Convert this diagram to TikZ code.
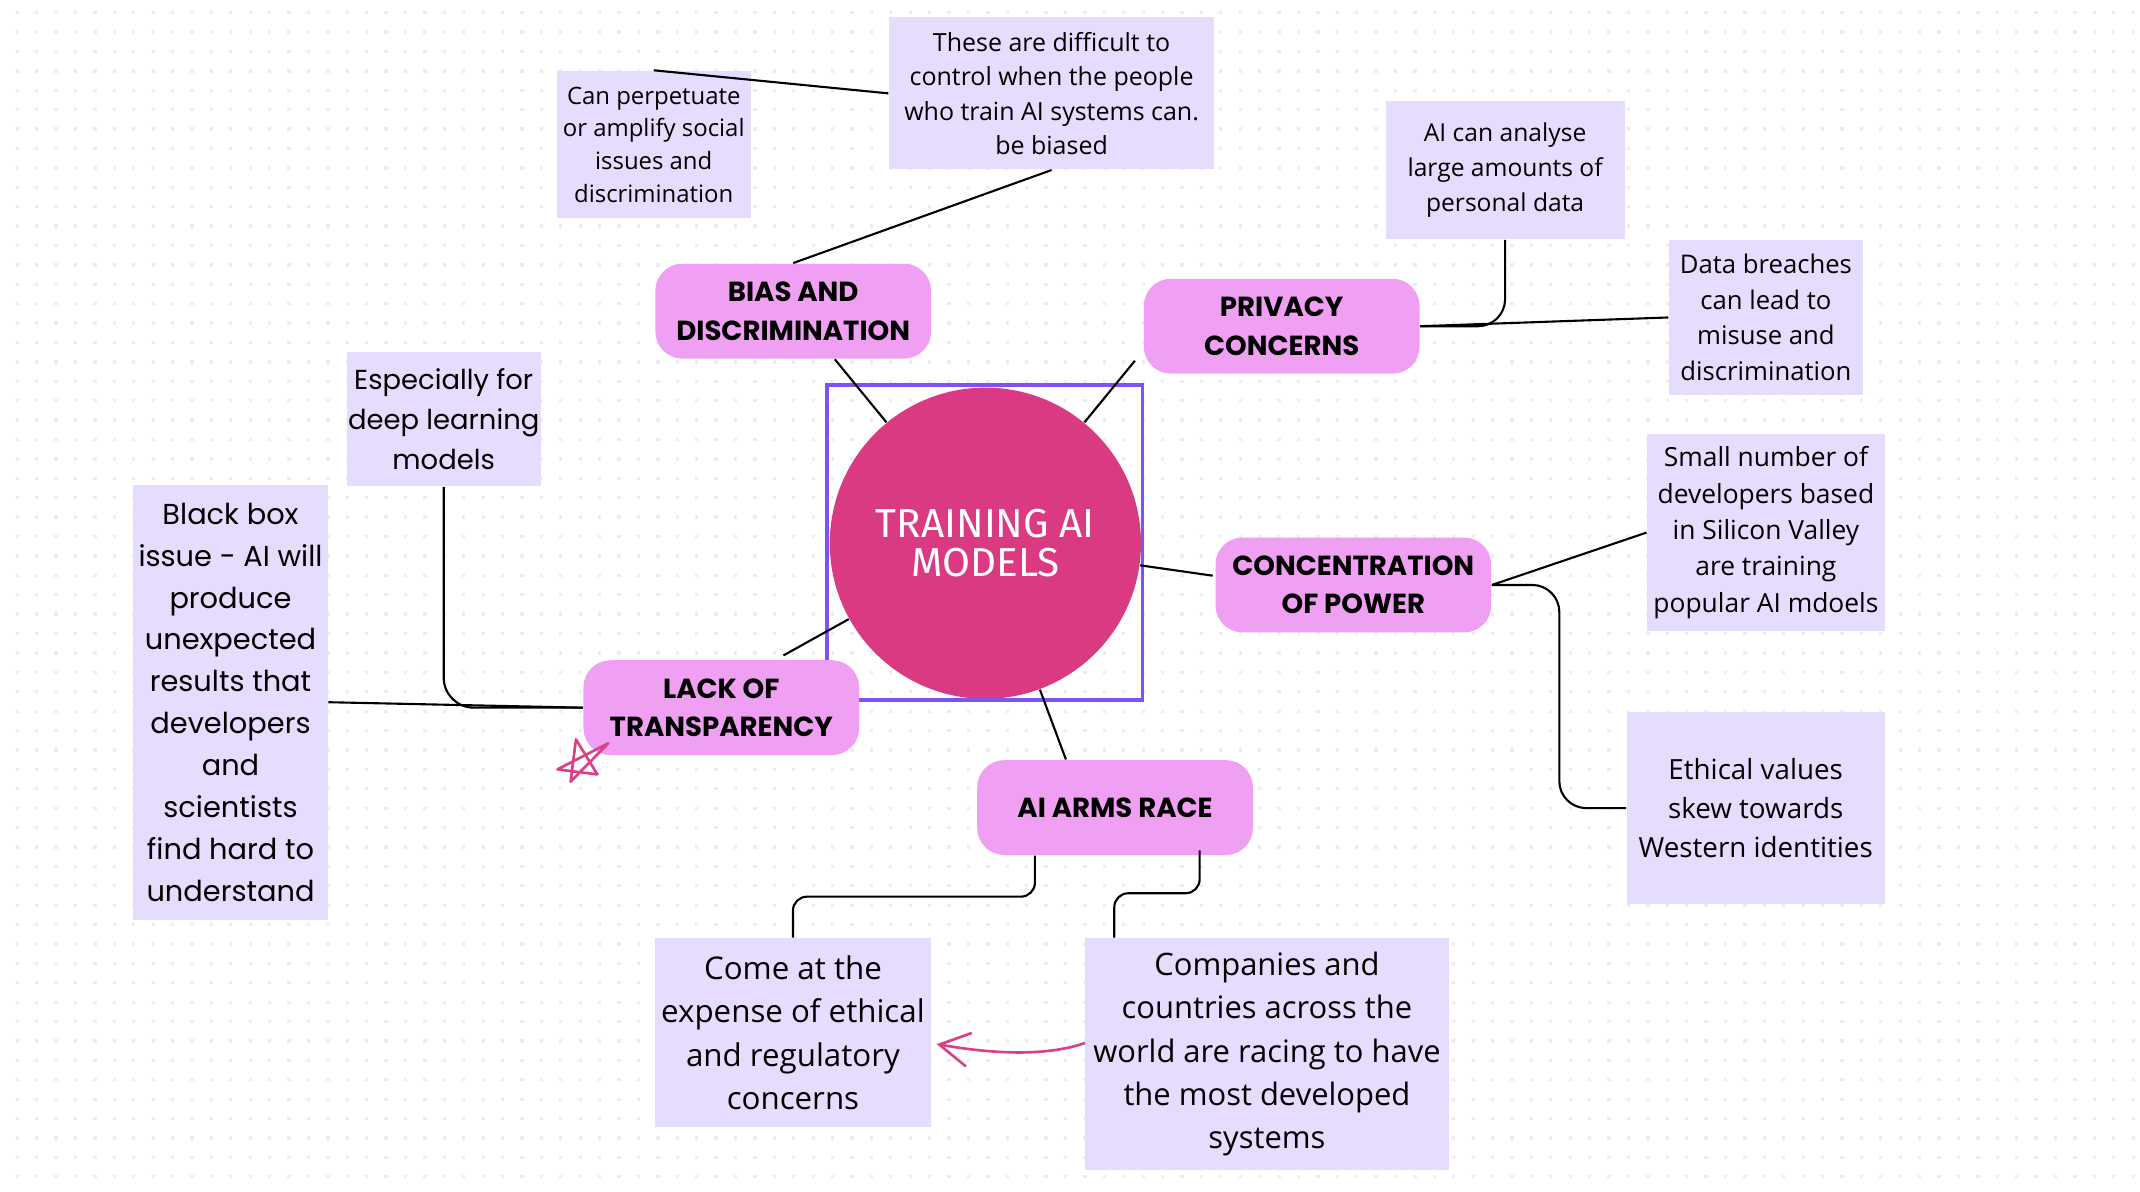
\documentclass[tikz,border=0pt]{standalone}
\usepackage{fontspec}
\setmainfont{Open Sans}
\newfontfamily\headfont{Poppins}
\newfontfamily\corefont{Fira Sans}
\usepackage{tikz}
\usetikzlibrary{arrows.meta,calc,positioning}

\definecolor{pillfill}{HTML}{F0A0F2}
\definecolor{leaffill}{HTML}{E6DCFD}
\definecolor{corefill}{HTML}{D93A81}
\definecolor{framecol}{HTML}{7F52F5}
\definecolor{inkcol}{HTML}{DD3F86}
\definecolor{dotcol}{HTML}{ECECF2}

\newcommand{\px}{0.013648cm}

\begin{document}
\begin{tikzpicture}[x=0.013648cm,y=-0.013648cm,
    link/.style={draw=black,line width=0.6pt},
    ink/.style={draw=inkcol,line width=0.75pt,line cap=round,line join=round},
    pill/.style={fill=pillfill,rounded corners=0.27cm,minimum width=202*\px,minimum height=69.5*\px,
      inner sep=0pt,align=center,font=\headfont\bfseries\fontsize{7.85}{10.9}\selectfont},
    leaf/.style={fill=leaffill,inner sep=0pt,align=center},
    core/.style={circle,fill=corefill,minimum size=228*\px,inner sep=0pt,text=white,align=center,
      font=\corefont\fontsize{11.5}{11.2}\selectfont}]

\useasboundingbox (0,0) rectangle (1568,873);
\fill[white] (0,0) rectangle (1568,873);
% dot grid
\foreach \r in {0,...,60}
  \draw[dotcol,line width=0.03276cm,dash pattern=on 0.03276cm off 0.16125cm]
    (11.48,9.3+14.215*\r) -- (1568,9.3+14.215*\r);

% centre
\node[core] (core) at (722,398) {TRAINING AI\\MODELS};
\node[draw=framecol,line width=1.05pt,minimum size=231*\px,inner sep=0pt] (selframe) at (721.5,397.5) {};

% main topics
\node[pill] (bias) at (581.2,228) {BIAS AND\\DISCRIMINATION};
\node[pill] (privacy) at (939.1,239) {PRIVACY\\CONCERNS};
\node[pill] (conc) at (991.6,428.6) {CONCENTRATION\\OF POWER};
\node[pill] (lack) at (528.5,518.5) {LACK OF\\TRANSPARENCY};
\node[pill] (arms) at (817,591.7) {AI ARMS RACE};

% notes
\node[leaf,minimum width=238.1*\px,minimum height=111.3*\px,font=\fontsize{7.1}{9.82}\selectfont] (these) at (770.5,68.4)
  {These are difficult to\\control when the people\\who train AI systems can.\\be biased};
\node[leaf,minimum width=142*\px,minimum height=108*\px,font=\fontsize{6.8}{9.31}\selectfont] (perp) at (479,106)
  {Can perpetuate\\or amplify social\\issues and\\discrimination};
\node[leaf,minimum width=175*\px,minimum height=101.3*\px,font=\fontsize{7.0}{9.9}\selectfont] (analyse) at (1102.8,124.6)
  {AI can analyse\\large amounts of\\personal data};
\node[leaf,minimum width=142.1*\px,minimum height=113.5*\px,font=\fontsize{7.3}{10.1}\selectfont] (breach) at (1293.9,232.6)
  {Data breaches\\can lead to\\misuse and\\discrimination};
\node[leaf,minimum width=173.9*\px,minimum height=144.1*\px,font=\fontsize{7.5}{10.36}\selectfont] (devs) at (1293.9,390.2)
  {Small number of\\developers based\\in Silicon Valley\\are training\\popular AI mdoels};
\node[leaf,minimum width=188.8*\px,minimum height=140.5*\px,font=\fontsize{7.9}{11.06}\selectfont] (ethic) at (1286.4,592.1)
  {Ethical values\\skew towards\\Western identities};
\node[leaf,minimum width=142.2*\px,minimum height=98.2*\px,font=\headfont\fontsize{7.8}{11.25}\selectfont] (deep) at (325.1,307.1)
  {Especially for\\deep learning\\models};
\node[leaf,minimum width=142.4*\px,minimum height=318.9*\px,font=\headfont\fontsize{8.2}{11.9}\selectfont] (blackbox) at (168.9,514.5)
  {Black box\\issue - AI will\\produce\\unexpected\\results that\\developers\\and\\scientists\\find hard to\\understand};
\node[leaf,minimum width=202.8*\px,minimum height=138.5*\px,font=\fontsize{8.9}{12.3}\selectfont] (expense) at (581,756.7)
  {Come at the\\expense of ethical\\and regulatory\\concerns};
\node[leaf,minimum width=266.7*\px,minimum height=169.8*\px,font=\fontsize{8.8}{12.3}\selectfont] (race) at (928.3,772.4)
  {Companies and\\countries across the\\world are racing to have\\the most developed\\systems};

% spokes
\draw[link] (core) -- ($(bias.south)+(30.5,0)$);
\draw[link] (core) -- ($(privacy.south west)+(-6,-10)$);
\draw[link] (core) -- ($(conc.west)+(-1.5,-6.8)$);
\draw[link] (core) -- ($(lack.north)+(45.5,-3)$);
\draw[link] (core) -- ($(arms.north)+(-36,0)$);

% branches
\draw[link] (perp.north) -- (these.west);
\draw[link] (bias.north) -- (these.south);
\draw[link,rounded corners=0.27cm] (privacy.east) -| (analyse.south);
\draw[link] (privacy.east) -- (breach.west);
\draw[link] (conc.east) -- (devs.west);
\draw[link,rounded corners=0.27cm] (conc.east) -- ++(49.4,0) |- (ethic.west);
\draw[link,rounded corners=0.3cm] (deep.south) |- (lack.west);
\draw[link] (blackbox.east) -- (lack.west);
\draw[link,rounded corners=0.14cm] ($(arms.south)+(-58.7,0)$) -- ++(0,30) -| (expense.north);
\draw[link,rounded corners=0.14cm] ($(arms.south)+(62,-4)$) -- ++(0,31.5) -| ($(race.north west)+(22,0)$);

% pen marks
\draw[ink,-{Straight Barb[length=0.3cm,width=0.34cm]}] ($(race.west)+(0,-8)$)
  .. controls (760,776) and (715,770) .. ($(expense.east)+(3.4,8.3)$);
\draw[ink] (422,541.7) -- (437.7,567.4) -- (408.4,563.7) -- (445.7,544.6) -- (418.1,572.7) -- cycle;
\end{tikzpicture}
\end{document}
